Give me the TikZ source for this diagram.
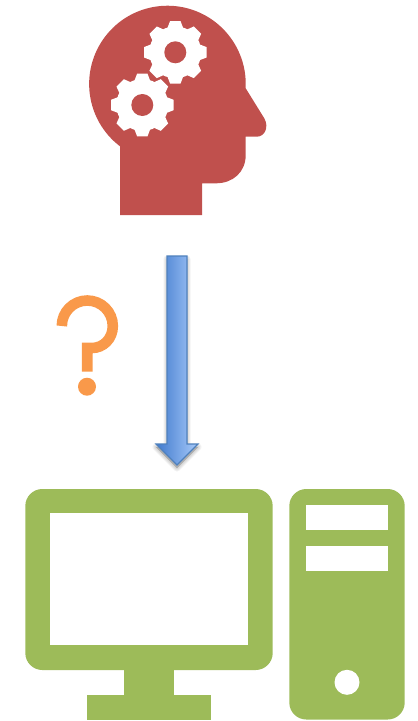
\documentclass[tikz,border=0pt]{standalone}
\usepackage{tikz}
\usetikzlibrary{positioning}
\definecolor{headred}{HTML}{C0504D}
\definecolor{pcgreen}{HTML}{9DBB59}
\definecolor{askorange}{HTML}{F9994A}
\definecolor{arrowline}{HTML}{4F81BD}
\definecolor{arrowdark}{HTML}{407ACE}
\definecolor{arrowlight}{HTML}{A8CAF9}
\newcommand{\downarrowpath}{(167,256) -- (187,256) -- (187,444) -- (198,444) -- (177,465) -- (156,444) -- (167,444) -- cycle}
\begin{document}
\begin{tikzpicture}[
  x=1pt, y=-1pt,
  pcpart/.style={fill=pcgreen, draw=none, rounded corners=17pt},
  pcsolid/.style={fill=pcgreen, draw=none},
  pchole/.style={fill=white, draw=none},
  headshape/.style={fill=headred, draw=none},
  gearpart/.style={fill=white, draw=none},
  askline/.style={draw=askorange, line width=10.6pt},
]
\useasboundingbox (0,0) rectangle (418,721);
% head
\draw[headshape] (120,215) -- (120,146.3) arc[start angle=127.3, end angle=360, radius=78.3]
  -- (245.7,88.3) -- (264.4,118.5) .. controls (269,127) and (265,136.7) .. (256.7,136.7)
  -- (245.7,136.7) -- (245.7,155) .. controls (245.7,172) and (233,183.3) .. (216,183.3)
  -- (202,183.3) -- (202,215) -- cycle;
% gears
\foreach \gearx/\geary in {175.3/52.3, 142.3/105}{
  \begin{scope}[shift={(\gearx,\geary)}]
    \fill[gearpart] (0,0) circle[radius=26];
    \foreach \ang in {0,45,...,315}
      \fill[gearpart, rotate=\ang] (24,-8) -- (31.3,-5.2) -- (31.3,5.2) -- (24,8) -- cycle;
    \fill[headshape] (0,0) circle[radius=11];
  \end{scope}
}
% question mark
\draw[askline] (61.8,326) arc[start angle=180, end angle=360, radius=25.5]
  .. controls (112.8,339) and (103,348) .. (92,348) -- (87.2,348) -- (87.2,371.7);
\fill[askorange] (87,386.7) circle[radius=9];
% arrow
\foreach \wid in {7,5,3,1}
  \draw[yshift=-3pt, black, line width=\wid pt, line join=round, opacity=.05, fill=black] \downarrowpath;
\draw[arrowline, line width=1.2pt, left color=arrowdark, right color=arrowlight] \downarrowpath;
% monitor
\fill[pcpart] (25.3,489) rectangle (272.7,670);
\fill[pchole] (50,513.3) rectangle (248,645.3);
\fill[pcsolid] (124.3,660) rectangle (173.7,700);
\fill[pcsolid] (87,695) rectangle (211,719.5);
% tower
\fill[pcpart] (289.3,489) rectangle (404.7,719.5);
\fill[pchole] (305.7,505.3) rectangle (388.3,530);
\fill[pchole] (305.7,546.3) rectangle (388.3,571);
\fill[pchole] (347,682.3) circle[radius=12.5];
\end{tikzpicture}
\end{document}
